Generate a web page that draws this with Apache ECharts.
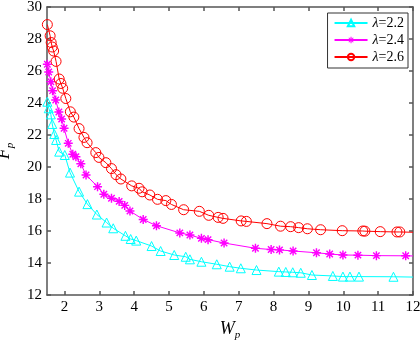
<!DOCTYPE html>
<html>
<head>
<meta charset="utf-8">
<script src="https://cdn.jsdelivr.net/npm/echarts@6/dist/echarts.min.js"></script>
<style>
  html, body { margin: 0; padding: 0; background: #fff; }
  #echarts { width: 420px; height: 340px; }
</style>
</head>
<body>
<div id="echarts"></div>
<script>
// 刻度
var xTicks = [2, 3, 4, 5, 6, 7, 8, 9, 10, 11, 12];
var yTicks = [12, 14, 16, 18, 20, 22, 24, 26, 28, 30];
var seriesNames = ['λ=2.2', 'λ=2.4', 'λ=2.6'];

// λ=2.2 (cyan)
var data22 = [
    [1.51, 24.08], [1.55, 23.67], [1.61, 23.29], [1.65, 22.69], [1.71, 22.06], [1.76, 21.69],
    [1.85, 20.96], [2.01, 20.75], [2.16, 19.65], [2.42, 18.46], [2.66, 17.68], [2.93, 17.03],
    [3.21, 16.53], [3.40, 16.17], [3.75, 15.70], [3.90, 15.50], [4.06, 15.40], [4.50, 15.06],
    [4.76, 14.75], [5.15, 14.50], [5.48, 14.39], [5.60, 14.23], [5.93, 14.08], [6.37, 13.92],
    [6.74, 13.77], [7.06, 13.67], [7.51, 13.56], [8.15, 13.46], [8.35, 13.44], [8.55, 13.42],
    [8.78, 13.39], [9.10, 13.25], [9.70, 13.19], [9.99, 13.15], [10.19, 13.15], [10.45, 13.15],
    [11.44, 13.14]
];
var end22 = [12, 13.12];

// λ=2.4 (magenta)
var data24 = [
    [1.51, 26.42], [1.55, 25.94], [1.61, 25.33], [1.66, 24.77], [1.75, 24.19], [1.84, 23.44],
    [1.92, 23.00], [1.99, 22.42], [2.11, 21.48], [2.24, 20.80], [2.33, 20.64], [2.47, 20.20],
    [2.62, 19.50], [2.95, 18.77], [3.13, 18.30], [3.35, 18.05], [3.57, 17.85], [3.73, 17.60],
    [3.88, 17.25], [4.26, 16.72], [4.64, 16.33], [5.31, 15.88], [5.60, 15.75], [5.93, 15.54],
    [6.12, 15.46], [6.58, 15.25], [7.48, 14.92], [7.93, 14.84], [8.17, 14.82], [8.56, 14.75],
    [9.23, 14.64], [9.61, 14.56], [9.99, 14.50], [10.42, 14.49], [10.95, 14.46], [11.79, 14.45]
];
var end24 = [12, 14.44];

// λ=2.6 (red)
var data26 = [
    [1.51, 28.90], [1.59, 28.20], [1.62, 27.78], [1.65, 27.50], [1.69, 27.25], [1.76, 26.60],
    [1.85, 25.50], [1.90, 25.22], [1.95, 24.92], [2.04, 24.28], [2.17, 23.45], [2.27, 23.12],
    [2.42, 22.40], [2.56, 21.85], [2.65, 21.52], [2.90, 20.90], [2.99, 20.60], [3.19, 20.27],
    [3.35, 19.90], [3.48, 19.52], [3.62, 19.25], [3.93, 18.82], [4.14, 18.67], [4.23, 18.45],
    [4.45, 18.25], [4.67, 17.98], [4.91, 17.90], [5.07, 17.66], [5.42, 17.33], [5.87, 17.23],
    [6.14, 16.98], [6.41, 16.85], [6.55, 16.79], [7.07, 16.63], [7.22, 16.60], [7.81, 16.46],
    [8.20, 16.30], [8.49, 16.27], [8.72, 16.21], [8.97, 16.14], [9.35, 16.08], [9.97, 16.02],
    [10.56, 16.00], [10.62, 15.99], [11.06, 15.96], [11.54, 15.94], [11.62, 15.94]
];
var end26 = [12, 15.92];

var FONT = 'Liberation Serif';
var AXIS_COLOR = '#555';
var HOLLOW = 'rgba(255,255,255,0)';
var asterisk = 'path://M-1.6,-10L1.6,-10L1.6,10L-1.6,10Z M-10,-1.6L10,-1.6L10,1.6L-10,1.6Z M-8.2,-6L-6,-8.2L8.2,6L6,8.2Z M6,-8.2L8.2,-6L-6,8.2L-8.2,6Z';

function withEnd(arr, end) {
    return arr.concat([{ value: end, symbol: 'none' }]);
}

function frameAxis(extra, ticks) {
    var a = {
        type: 'value',
        axisLine: { show: true, onZero: false, lineStyle: { color: AXIS_COLOR, width: 1.5 } },
        axisTick: { show: true, inside: true, length: 4, lineStyle: { color: AXIS_COLOR, width: 1.5 } },
        splitLine: { show: false }
    };
    if (ticks) a.axisTick.customValues = ticks;
    for (var k in extra) a[k] = extra[k];
    return a;
}

var nameRich = {
    w: { fontFamily: FONT, fontSize: 18, fontStyle: 'italic', color: '#000' },
    s: { fontFamily: FONT, fontSize: 11, fontStyle: 'italic', color: '#000', padding: [12, 0, 0, 0] }
};

var myChart = echarts.init(document.getElementById('echarts'));
var option = {
    backgroundColor: '#fff',
    animation: false,
    grid: { left: 47, right: 7, top: 7, bottom: 45, containLabel: false, outerBoundsMode: 'none' },
    legend: {
        data: seriesNames,
        orient: 'vertical',
        right: 12,
        top: 13,
        padding: [2, 4, 3, 6],
        itemGap: 1,
        itemWidth: 33,
        itemHeight: 8,
        borderColor: '#333',
        borderWidth: 1,
        backgroundColor: '#fff',
        formatter: function (name) {
            return '{i|λ}' + name.slice(1);
        },
        textStyle: {
            fontFamily: FONT, fontSize: 14, color: '#000', lineHeight: 16,
            rich: { i: { fontFamily: FONT, fontSize: 14, fontStyle: 'italic', color: '#000' } }
        }
    },
    xAxis: [
        frameAxis({
            min: 1.5, max: 12, position: 'bottom',
            axisLabel: { customValues: xTicks, fontFamily: FONT, fontSize: 15, color: '#000', margin: 5 },
            name: '{w|W}{s|p}',
            nameLocation: 'middle',
            nameGap: 20,
            nameTextStyle: { rich: nameRich }
        }, xTicks),
        frameAxis({
            min: 1.5, max: 12, position: 'top',
            axisLabel: { show: false }
        }, xTicks)
    ],
    yAxis: [
        frameAxis({
            min: 12, max: 30, interval: 2, position: 'left',
            axisLabel: { fontFamily: FONT, fontSize: 15, color: '#000', margin: 5 },
            name: '{w|F}{s|p}',
            nameLocation: 'middle',
            nameRotate: 90,
            nameGap: 26,
            nameTextStyle: { rich: nameRich }
        }),
        frameAxis({
            min: 12, max: 30, interval: 2, position: 'right',
            axisLabel: { show: false }
        })
    ],
    series: [
        {
            name: seriesNames[0], type: 'line',
            data: withEnd(data22, end22),
            symbol: 'triangle', symbolSize: 9,
            itemStyle: { color: HOLLOW, borderColor: '#00ffff', borderWidth: 1 },
            lineStyle: { color: '#00ffff', width: 1 }
        },
        {
            name: seriesNames[1], type: 'line',
            data: withEnd(data24, end24),
            symbol: asterisk, symbolSize: 9,
            itemStyle: { color: '#ff00ff', borderWidth: 0 },
            lineStyle: { color: '#ff00ff', width: 1 }
        },
        {
            name: seriesNames[2], type: 'line',
            data: withEnd(data26, end26),
            symbol: 'circle', symbolSize: 10,
            itemStyle: { color: HOLLOW, borderColor: '#ff0000', borderWidth: 1 },
            lineStyle: { color: '#ff0000', width: 1 }
        }
    ]
};
myChart.setOption(option);
</script>
</body>
</html>
